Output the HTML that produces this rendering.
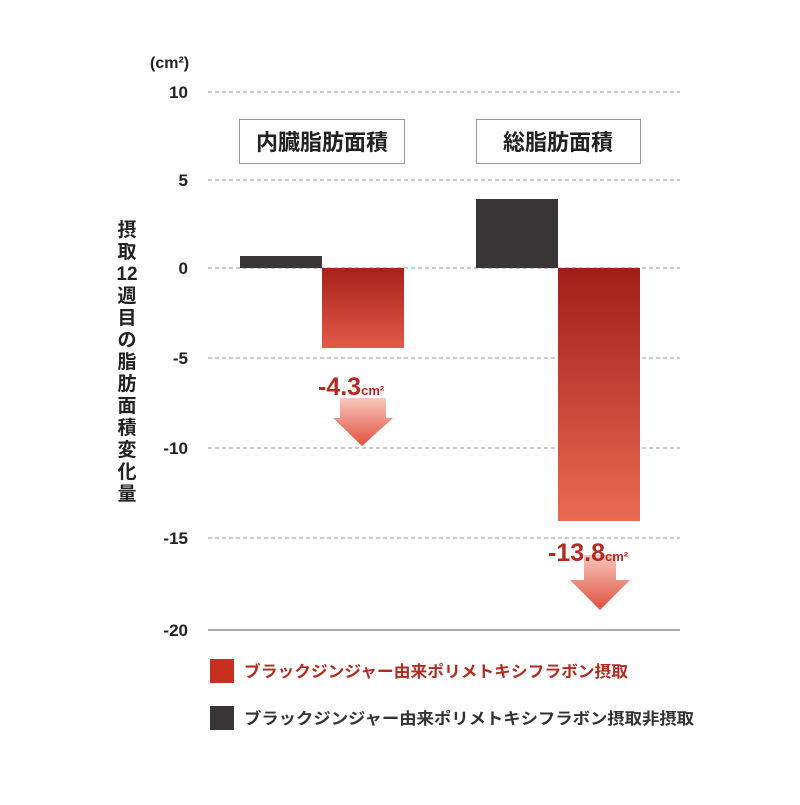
<!DOCTYPE html>
<html><head><meta charset="utf-8"><style>
body{margin:0;background:#fff}
text{font-family:"Liberation Sans","Noto Sans CJK JP",sans-serif;font-weight:bold}
</style></head><body>
<svg width="800" height="800" viewBox="0 0 800 800">
<defs>
<linearGradient id="r1" x1="0" y1="0" x2="0" y2="1"><stop offset="0" stop-color="#a8211a"/><stop offset="1" stop-color="#e25a48"/></linearGradient>
<linearGradient id="r2" x1="0" y1="0" x2="0" y2="1"><stop offset="0" stop-color="#a01e17"/><stop offset="1" stop-color="#ea6a55"/></linearGradient>
<linearGradient id="ar" x1="0" y1="0" x2="0" y2="1"><stop offset="0" stop-color="#f7c7bd"/><stop offset="1" stop-color="#e0503e"/></linearGradient>
</defs>
<g stroke="#999" stroke-dasharray="4,3" stroke-width="1">
<line x1="208" y1="92" x2="680" y2="92"/><line x1="208" y1="180" x2="680" y2="180"/>
<line x1="208" y1="268" x2="680" y2="268"/><line x1="208" y1="358" x2="680" y2="358"/>
<line x1="208" y1="448" x2="680" y2="448"/><line x1="208" y1="538" x2="680" y2="538"/>
</g>
<line x1="208" y1="630" x2="680" y2="630" stroke="#555" stroke-width="1"/>
<g font-size="17" fill="#222" text-anchor="end">
<text x="188" y="98">10</text><text x="188" y="186">5</text><text x="188" y="274">0</text>
<text x="188" y="364">-5</text><text x="188" y="454">-10</text><text x="188" y="544">-15</text><text x="188" y="636">-20</text>
</g>
<text x="150" y="68" font-size="16" fill="#222">(cm²)</text>
<g font-size="19" fill="#222" text-anchor="middle">
<text x="127" y="236">摂</text><text x="127" y="258">取</text><text x="127" y="280">12</text>
<text x="127" y="302">週</text><text x="127" y="324">目</text><text x="127" y="346">の</text>
<text x="127" y="368">脂</text><text x="127" y="390">肪</text><text x="127" y="412">面</text>
<text x="127" y="434">積</text><text x="127" y="456">変</text><text x="127" y="478">化</text><text x="127" y="500">量</text>
</g>
<rect x="239.5" y="119.5" width="165" height="44" fill="#fff" stroke="#999"/>
<text x="322" y="150" font-size="22" fill="#222" text-anchor="middle">内臓脂肪面積</text>
<rect x="476.5" y="119.5" width="164" height="44" fill="#fff" stroke="#999"/>
<text x="558" y="150" font-size="22" fill="#222" text-anchor="middle">総脂肪面積</text>
<rect x="240" y="256" width="82" height="12" fill="#3a3536"/>
<rect x="322" y="268" width="82" height="80" fill="url(#r1)"/>
<rect x="476" y="199" width="82" height="69" fill="#3a3536"/>
<rect x="558" y="268" width="82" height="253" fill="url(#r2)"/>
<polygon points="340,398 386,398 386,418 393,418 362,446 333,418 340,418" fill="url(#ar)"/>
<polygon points="584,555 616,555 616,580 630,580 600,610 570,580 584,580" fill="url(#ar)"/>
<text x="318" y="395" font-size="25" fill="#b52a20">-4.3<tspan font-size="13">cm²</tspan></text>
<text x="548" y="561" font-size="25" fill="#b52a20">-13.8<tspan font-size="13">cm²</tspan></text>
<rect x="210" y="659" width="24" height="24" fill="#c8311f"/>
<text x="244" y="677" font-size="16" fill="#b52a20" textLength="384" lengthAdjust="spacingAndGlyphs">ブラックジンジャー由来ポリメトキシフラボン摂取</text>
<rect x="210" y="706" width="24" height="24" fill="#3a3536"/>
<text x="244" y="724" font-size="16" fill="#333" textLength="450" lengthAdjust="spacingAndGlyphs">ブラックジンジャー由来ポリメトキシフラボン摂取非摂取</text>
</svg>
</body></html>
